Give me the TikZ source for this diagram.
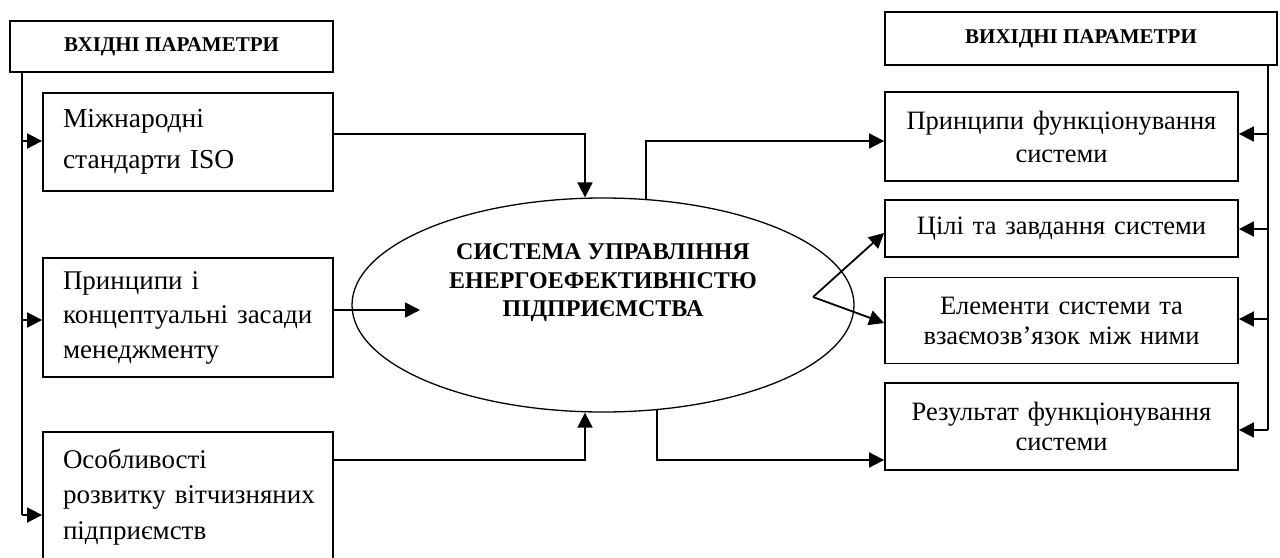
\documentclass[tikz,border=0pt]{standalone}
\usepackage{fontspec}
\setmainfont{Liberation Serif}[BoldFont={Liberation Serif Bold}]
\usetikzlibrary{arrows.meta,shapes.geometric}
\begin{document}
\begin{tikzpicture}[x=1pt,y=-1pt,
  box/.style={draw,line width=1.8pt,inner ysep=0pt},
  hdr/.style={box,inner xsep=0pt,font=\bfseries\fontsize{21}{24}\selectfont},
  lbox/.style={box,align=left,text width=250pt,inner xsep=20pt,minimum width=290pt},
  rbox/.style={box,align=center,text width=333pt,inner xsep=10pt,minimum width=353pt,font=\fontsize{26.5}{31}\selectfont},
  conn/.style={line width=1.8pt,-{Triangle[length=15pt,width=15pt]}},
  trunk/.style={line width=1.8pt},
  ]
\useasboundingbox (0,0) rectangle (1280,557);

% left column
\node[hdr,minimum width=323pt,minimum height=51pt] (inhdr) at (171.5,46.5) {ВХІДНІ ПАРАМЕТРИ};
\node[lbox,minimum height=98pt,font=\fontsize{27.5}{41}\selectfont] (in1) at (188,142) {Міжнародні\\\mbox{стандарти ISO}};
\node[lbox,minimum height=119pt,font=\fontsize{27}{34.5}\selectfont] (in2) at (188,317.5) {Принципи і\\\mbox{концептуальні засади}\\менеджменту};
\node[lbox,minimum height=130pt,font=\fontsize{27}{35.5}\selectfont] (in3) at (188,497) {Особливості\\\mbox{розвитку вітчизняних}\\підприємств};

% right column
\node[hdr,minimum width=392pt,minimum height=53pt] (outhdr) at (1081,38.5) {ВИХІДНІ ПАРАМЕТРИ};
\node[rbox,minimum height=89pt,font=\fontsize{26.5}{33}\selectfont] (out1) at (1061.5,136.5) {Принципи функціонування\\системи};
\node[rbox,minimum height=57pt] (out2) at (1061.5,228.5) {Цілі та завдання системи};
\node[rbox,minimum height=86pt,font=\fontsize{26.5}{30}\selectfont] (out3) at (1061.5,320.5) {Елементи системи та\\взаємозв’язок між ними};
\node[rbox,minimum height=87pt,font=\fontsize{26.5}{30}\selectfont] (out4) at (1061.5,426.5) {Результат функціонування\\системи};

% centre
\node[draw,ellipse,line width=1.3pt,minimum width=502pt,minimum height=214pt] (e) at (603,305) {};
\node[align=center,font=\bfseries\fontsize{24}{28.5}\selectfont] (etext) at (603,283) {СИСТЕМА УПРАВЛІННЯ\\ЕНЕРГОЕФЕКТИВНІСТЮ\\ПІДПРИЄМСТВА};

% helper coordinates
\coordinate (l1) at (333,134);
\coordinate (l2) at (333,310);
\coordinate (l3) at (333,460);
\coordinate (a2) at (420,310);
\coordinate (et1) at (646,200);
\coordinate (eb4) at (657,410);
\coordinate (j) at (813,297);
\coordinate (lt) at (22,72);
\coordinate (rt) at (1268,65);

% left trunk
\draw[trunk] (lt) -- (22,515);
\draw[conn] (22,141) -- (in1.west |- 22,141);
\draw[conn] (22,320) -- (in2.west |- 22,320);
\draw[conn] (22,515) -- (in3.west |- 22,515);

% right trunk
\draw[trunk] (rt) -- (1268,430);
\draw[conn] (1268,134) -- (out1.east |- 1268,134);
\draw[conn] (1268,229) -- (out2.east |- 1268,229);
\draw[conn] (1268,319) -- (out3.east |- 1268,319);
\draw[conn] (1268,430) -- (out4.east |- 1268,430);

% inputs to ellipse
\draw[conn] (l1) -| (e.north -| 585,0);
\draw[conn] (l2) -- (a2);
\draw[conn] (l3) -| (e.south -| 585,0);

% outputs
\draw[conn] (et1) |- (out1.west |- 0,141);
\draw[conn] (j) -- (out2.west |- 0,233);
\draw[conn] (j) -- (out3.west |- 0,323);
\draw[conn] (eb4) |- (out4.west |- 0,460);
\end{tikzpicture}
\end{document}
